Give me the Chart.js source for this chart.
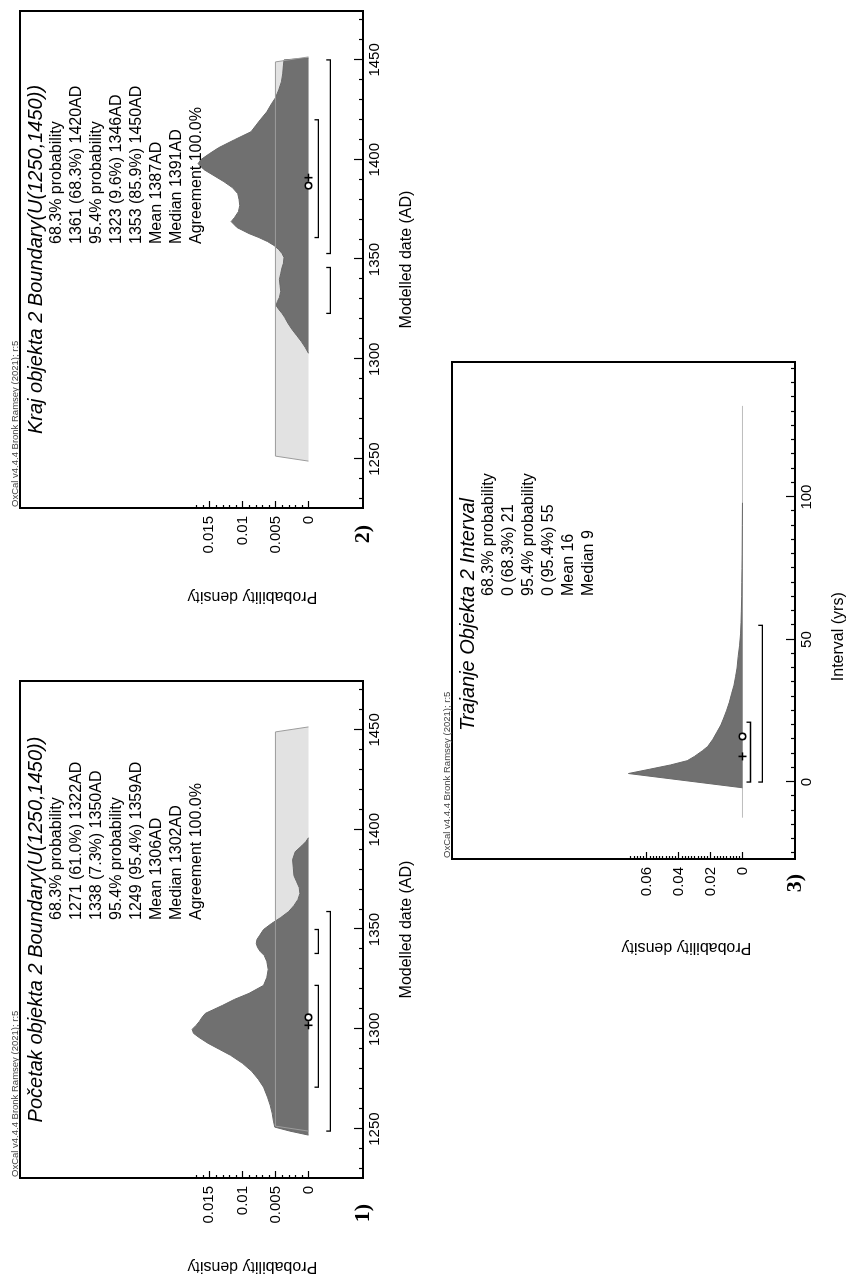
<!DOCTYPE html>
<html>
<head>
<meta charset="utf-8">
<script src="https://cdn.jsdelivr.net/npm/chart.js@4.4.1/dist/chart.umd.min.js"></script>
<style>
  html, body { margin: 0; padding: 0; background: #fff; overflow: hidden; }
  body { width: 846px; height: 1275px; position: relative; }
  .box { position: absolute; transform-origin: 0 0; }
  canvas { display: block; }
</style>
</head>
<body>
<div class="box" id="box1"><canvas id="c1"></canvas></div>
<div class="box" id="box2"><canvas id="c2"></canvas></div>
<div class="box" id="box3"><canvas id="c3"></canvas></div>
<script>
// ---- data ----
const dateTicks = [1250, 1300, 1350, 1400, 1450];
const densityTicks = [0, 0.005, 0.01, 0.015];
const intervalTicks = [0, 50, 100];
const intervalDensityTicks = [0, 0.02, 0.04, 0.06];

// uniform prior U(1250,1450), shared by both boundaries
const priorX = [1249, 1251.5, 1449, 1451.5];
const priorY = [0, 0.005, 0.005, 0];

// 1) Pocetak objekta 2 (start boundary)
const startX = [1247, 1249, 1251, 1254, 1258, 1262, 1266, 1271, 1275, 1279, 1283, 1287, 1290, 1293,
  1296, 1298, 1300, 1302, 1304, 1306, 1308, 1310, 1312, 1315, 1318, 1322, 1326, 1330, 1334, 1337,
  1339, 1341, 1343, 1345, 1347, 1350, 1353, 1356, 1359, 1362, 1365, 1368, 1371, 1374, 1377, 1381,
  1385, 1389, 1392, 1394, 1396];
const startY = [0, 0.0028, 0.0051, 0.0053, 0.0055, 0.0058, 0.0062, 0.0068, 0.0076, 0.0086, 0.0100,
  0.0118, 0.0135, 0.0152, 0.0166, 0.0174, 0.0176, 0.0170, 0.0165, 0.0161, 0.0156, 0.0143, 0.0130,
  0.0112, 0.0090, 0.0068, 0.0063, 0.0061, 0.0063, 0.0067, 0.0073, 0.0077, 0.0079, 0.0078, 0.0074,
  0.0068, 0.0056, 0.0042, 0.0030, 0.0022, 0.0016, 0.0013, 0.0014, 0.0018, 0.0022, 0.0023, 0.0024,
  0.0020, 0.0010, 0.0004, 0];
const start68 = [[1271, 1322], [1338, 1350]];
const start95 = [[1249, 1359]];
const startMean = 1306;
const startMedian = 1302;
const startTitle = 'Početak objekta 2 Boundary(U(1250,1450))';
const startLines = ['68.3% probability', '1271 (61.0%) 1322AD', '1338 (7.3%) 1350AD',
  '95.4% probability', '1249 (95.4%) 1359AD', 'Mean 1306AD', 'Median 1302AD', 'Agreement 100.0%'];

// 2) Kraj objekta 2 (end boundary)
const endX = [1303, 1306, 1309, 1312, 1315, 1318, 1321, 1323, 1325, 1327, 1329, 1331, 1334, 1337,
  1340, 1343, 1346, 1348, 1351, 1353, 1355, 1357, 1359, 1361, 1363, 1366, 1369, 1371, 1374, 1377,
  1380, 1383, 1386, 1389, 1392, 1395, 1398, 1400, 1403, 1406, 1410, 1414, 1417, 1420, 1424, 1428,
  1431, 1435, 1439, 1443, 1447, 1450, 1451];
const endY = [0, 0.0005, 0.0011, 0.0018, 0.0025, 0.0031, 0.0036, 0.0040, 0.0045, 0.0049, 0.0047,
  0.0044, 0.0042, 0.0043, 0.0044, 0.0042, 0.0040, 0.0038, 0.0037, 0.0040, 0.0045, 0.0052, 0.0062,
  0.0075, 0.0090, 0.0108, 0.0117, 0.0112, 0.0106, 0.0104, 0.0105, 0.0107, 0.0115, 0.0128, 0.0143,
  0.0158, 0.0167, 0.0163, 0.0150, 0.0136, 0.0112, 0.0087, 0.0080, 0.0073, 0.0063, 0.0056, 0.0050,
  0.0045, 0.0041, 0.0039, 0.0038, 0.0037, 0];
const end68 = [[1361, 1420]];
const end95 = [[1323, 1346], [1353, 1450]];
const endMean = 1387;
const endMedian = 1391;
const endTitle = 'Kraj objekta 2 Boundary(U(1250,1450))';
const endLines = ['68.3% probability', '1361 (68.3%) 1420AD', '95.4% probability',
  '1323 (9.6%) 1346AD', '1353 (85.9%) 1450AD', 'Mean 1387AD', 'Median 1391AD', 'Agreement 100.0%'];

// 3) Trajanje objekta 2 (interval)
const spanPriorX = [-12.5, 132];
const spanPriorY = [0, 0];
const spanX = [-2, 3, 4.5, 6, 7.5, 9, 11, 12.5, 15, 17.5, 20, 22.5, 25, 28, 31, 34, 37, 40, 44, 48,
  52, 56, 60, 65, 70, 75, 80, 90, 98];
const spanY = [0, 0.0712, 0.058, 0.045, 0.0345, 0.030, 0.025, 0.0217, 0.0185, 0.016, 0.0135, 0.0117,
  0.0100, 0.0082, 0.0068, 0.0053, 0.0043, 0.0034, 0.0027, 0.0018, 0.0012, 0.0009, 0.0007, 0.0005,
  0.0004, 0.0003, 0.0002, 0.0001, 0];
const span68 = [[0, 21]];
const span95 = [[0, 55]];
const spanMean = 16;
const spanMedian = 9;
const spanTitle = 'Trajanje Objekta 2 Interval';
const spanLines = ['68.3% probability', '0 (68.3%) 21', '95.4% probability', '0 (95.4%) 55',
  'Mean 16', 'Median 9'];

const credit = 'OxCal v4.4.4 Bronk Ramsey (2021); r:5';

// ---- layout (chart is drawn upright, then turned 90deg anticlockwise) ----
const CW = 609, CH = 420, PAD_L = 100, PAD_T = 14, PAD_R = 12, PAD_B = 60;
const FONT = "'Liberation Sans', Arial, sans-serif";

Chart.defaults.font.family = FONT;
Chart.defaults.color = '#000';

const toPts = (xs, ys) => xs.map((x, i) => ({ x: x, y: ys[i] }));

function bracketPts(ranges, level, tick) {
  const pts = [];
  ranges.forEach(r => {
    pts.push({ x: r[0], y: level + tick }, { x: r[0], y: level },
             { x: r[1], y: level }, { x: r[1], y: level + tick }, { x: r[1], y: null });
  });
  return pts;
}

const oxcalPlugin = {
  id: 'oxcal',
  afterDatasetsDraw(chart, args, o) {
    const { ctx, chartArea: a, scales: { x, y } } = chart;
    ctx.save();
    ctx.strokeStyle = '#000';
    ctx.fillStyle = '#000';

    // inward tick marks
    ctx.lineWidth = 1.2;
    const nx = Math.round((o.xMinor[1] - o.xMinor[0]) / o.xMinor[2]);
    for (let k = 0; k <= nx; k++) {
      const v = o.xMinor[0] + k * o.xMinor[2];
      const major = o.xMajor.some(t => Math.abs(t - v) < 1e-6);
      const px = Math.round(x.getPixelForValue(v)) + 0.5;
      ctx.beginPath();
      ctx.moveTo(px, a.bottom);
      ctx.lineTo(px, a.bottom - (major ? 9 : 4));
      ctx.stroke();
    }
    const ny = Math.round(o.yMinor[1] / o.yMinor[2]);
    for (let k = 0; k <= ny; k++) {
      const v = k * o.yMinor[2];
      const major = o.yMajor.some(t => Math.abs(t - v) < 1e-9);
      const py = Math.round(y.getPixelForValue(v)) + 0.5;
      ctx.beginPath();
      ctx.moveTo(a.left, py);
      ctx.lineTo(a.left + (major ? 7 : 3), py);
      ctx.stroke();
    }

    // frame
    ctx.lineWidth = 2;
    ctx.strokeRect(a.left, a.top, a.right - a.left, a.bottom - a.top);

    // credit line
    ctx.fillStyle = '#444';
    ctx.font = '9.5px ' + FONT;
    ctx.textAlign = 'left';
    ctx.textBaseline = 'alphabetic';
    ctx.fillText(credit, a.left + 1, a.top - 2);

    // title and statistics
    ctx.fillStyle = '#000';
    ctx.font = 'italic 20px ' + FONT;
    ctx.textAlign = 'center';
    ctx.textBaseline = 'middle';
    ctx.fillText(o.title, (a.left + a.right) / 2 + o.titleShift, a.top + 16);
    ctx.font = '16px ' + FONT;
    ctx.textAlign = 'left';
    o.lines.forEach((s, i) => ctx.fillText(s, a.left + o.linesAt, a.top + 37 + i * 20));

    // axis titles
    ctx.textAlign = 'center';
    ctx.fillText(o.xTitle, x.getPixelForValue(o.xTitleAt), a.bottom + 44);
    ctx.save();
    ctx.translate(a.left - 88, y.getPixelForValue(o.yTitleAt));
    ctx.rotate(-Math.PI / 2);
    ctx.fillText('Probability density', 0, 0);
    ctx.restore();

    // panel number
    ctx.font = "bold 22px 'Liberation Serif', 'Times New Roman', serif";
    ctx.fillText(o.num, a.left - o.numOff, a.bottom);
    ctx.restore();
  }
};

function makeChart(id, c) {
  const datasets = [];
  if (c.priorFill) {
    datasets.push({ data: toPts(c.priorX, c.priorY), fill: 'origin', backgroundColor: '#e2e2e2',
      borderWidth: 0, pointRadius: 0, order: 6 });
  }
  datasets.push({ data: toPts(c.postX, c.postY), fill: 'origin', backgroundColor: '#707070',
    borderColor: '#686868', borderWidth: 1, pointRadius: 0, order: 5 });
  datasets.push({ data: toPts(c.priorX, c.priorY), fill: false, borderColor: c.priorFill ? '#9c9c9c' : '#bdbdbd',
    borderWidth: 1, pointRadius: 0, order: c.priorFill ? 4 : 7 });
  datasets.push({ data: bracketPts(c.r68, c.lvl68, c.tick), fill: false, borderColor: '#000',
    borderWidth: 1.3, pointRadius: 0, spanGaps: false, order: 3 });
  datasets.push({ data: bracketPts(c.r95, c.lvl95, c.tick), fill: false, borderColor: '#000',
    borderWidth: 1.3, pointRadius: 0, spanGaps: false, order: 3 });
  datasets.push({ data: [{ x: c.median, y: 0 }], showLine: false, pointStyle: 'cross', pointRadius: 4,
    pointBorderColor: '#000', pointBorderWidth: 1.6, clip: false, order: 2 });
  datasets.push({ data: [{ x: c.mean, y: 0 }], showLine: false, pointStyle: 'circle', pointRadius: 3.2,
    pointBackgroundColor: '#fff', pointBorderColor: '#000', pointBorderWidth: 1.6, clip: false, order: 1 });

  const canvas = document.getElementById(id);
  canvas.width = CW; canvas.height = CH;
  canvas.style.width = CW + 'px'; canvas.style.height = CH + 'px';

  return new Chart(canvas, {
    type: 'line',
    data: { datasets: datasets },
    plugins: [oxcalPlugin],
    options: {
      responsive: false,
      animation: false,
      layout: { padding: { top: PAD_T, right: PAD_R, left: 0, bottom: 0 } },
      plugins: {
        legend: { display: false },
        tooltip: { enabled: false },
        oxcal: c.text
      },
      scales: {
        x: {
          type: 'linear', min: c.xMin, max: c.xMax,
          afterBuildTicks: s => { s.ticks = c.xTicks.map(v => ({ value: v })); },
          afterFit: s => { s.height = PAD_B; },
          ticks: { autoSkip: false, maxRotation: 0, padding: 3, font: { size: 15 }, color: '#000',
            callback: v => String(v) },
          grid: { display: false, drawTicks: false },
          border: { display: false }
        },
        y: {
          type: 'linear', min: c.yMin, max: c.yMax,
          afterBuildTicks: s => { s.ticks = c.yTicks.map(v => ({ value: v })); },
          afterFit: s => { s.width = PAD_L; },
          ticks: { autoSkip: false, padding: 8, font: { size: 15 }, color: '#000',
            callback: v => String(+v.toFixed(3)) },
          grid: { display: false, drawTicks: false },
          border: { display: false }
        }
      }
    }
  });
}

function place(boxId, frameLeft, frameBottom) {
  const b = document.getElementById(boxId);
  b.style.left = (frameLeft - PAD_T) + 'px';
  b.style.top = (frameBottom + PAD_L - CW) + 'px';
  b.style.width = CW + 'px';
  b.style.height = CH + 'px';
  b.style.transform = 'translate(0px, ' + CW + 'px) rotate(-90deg)';
}

place('box2', 17, 508);
place('box1', 17, 1178);
place('box3', 449, 859);

const boundaryAxes = {
  xMin: 1225.5, xMax: 1474.5, xTicks: dateTicks,
  yMin: -0.00825, yMax: 0.04365, yTicks: densityTicks,
  lvl68: -0.0015, lvl95: -0.0033, tick: 0.0006, priorFill: true
};

makeChart('c1', Object.assign({}, boundaryAxes, {
  priorX: priorX, priorY: priorY, postX: startX, postY: startY,
  r68: start68, r95: start95, mean: startMean, median: startMedian,
  text: { title: startTitle, titleShift: 0, lines: startLines, linesAt: 258,
    xTitle: 'Modelled date (AD)', xTitleAt: 1350, yTitleAt: 0.0085, num: '1)', numOff: 35,
    xMinor: [1230, 1470, 10], xMajor: dateTicks, yMinor: [0, 0.017, 0.001], yMajor: densityTicks }
}));

makeChart('c2', Object.assign({}, boundaryAxes, {
  priorX: priorX, priorY: priorY, postX: endX, postY: endY,
  r68: end68, r95: end95, mean: endMean, median: endMedian,
  text: { title: endTitle, titleShift: 0, lines: endLines, linesAt: 264,
    xTitle: 'Modelled date (AD)', xTitleAt: 1350, yTitleAt: 0.0085, num: '2)', numOff: 26,
    xMinor: [1230, 1470, 10], xMajor: dateTicks, yMinor: [0, 0.017, 0.001], yMajor: densityTicks }
}));

makeChart('c3', {
  xMin: -27, xMax: 147.4, xTicks: intervalTicks,
  yMin: -0.0328, yMax: 0.1814, yTicks: intervalDensityTicks,
  lvl68: -0.005, lvl95: -0.0124, tick: 0.0025, priorFill: false,
  priorX: spanPriorX, priorY: spanPriorY, postX: spanX, postY: spanY,
  r68: span68, r95: span95, mean: spanMean, median: spanMedian,
  text: { title: spanTitle, titleShift: -4, lines: spanLines, linesAt: 263,
    xTitle: 'Interval (yrs)', xTitleAt: 51, yTitleAt: 0.035, num: '3)', numOff: 24,
    xMinor: [-25, 145, 5], xMajor: intervalTicks, yMinor: [0, 0.07, 0.002], yMajor: intervalDensityTicks }
});
</script>
</body>
</html>
